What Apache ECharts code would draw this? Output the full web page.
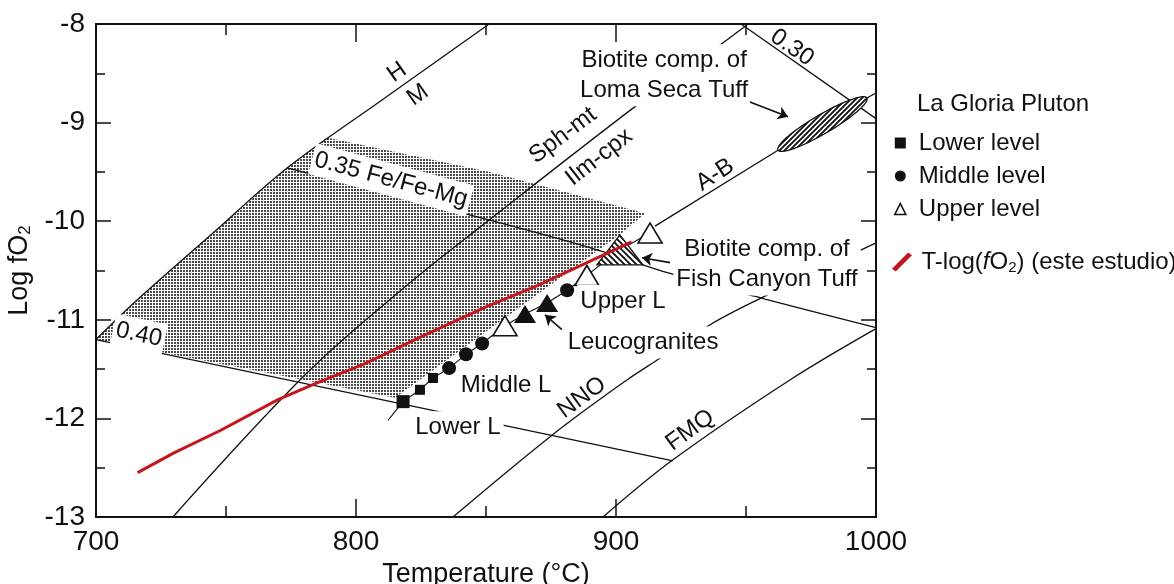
<!DOCTYPE html>
<html>
<head>
<meta charset="utf-8">
<script src="https://cdn.jsdelivr.net/npm/echarts@6/dist/echarts.min.js"></script>
<style>
  html, body { margin: 0; padding: 0; background: #fff; }
  #chart { width: 1174px; height: 584px; }
</style>
</head>
<body>
<div id="chart"></div>
<script>
// ---- axis ticks ----
const tempTicks = [700, 800, 900, 1000];
const logTicks = [-13, -12, -11, -10, -9, -8];

// ---- reference curves (T in °C, log fO2) ----
const hmT = [700, 715.8, 745, 773.5, 810, 851.2];            // hematite / magnetite
const hmLog = [-11.2, -10.8, -10.12, -9.46, -8.77, -8.0];
const sphT = [729.6, 782.3, 821.9, 847.7, 909.2, 941.2, 950.8]; // Sph-mt / Ilm-cpx
const sphLog = [-13.0, -11.51, -10.6, -10.06, -8.8, -8.19, -8.0];
const abT = [915.0, 962.3, 996.5, 1000];                     // A-B
const abLog = [-10.05, -9.28, -8.75, -8.7];
const nnoT = [837.3, 875.4, 904.2, 916.9, 936.2, 954.2, 1000];
const nnoLog = [-13.0, -12.17, -11.61, -11.39, -11.05, -10.8, -10.22];
const fmqT = [895.0, 921.9, 966.9, 1000];
const fmqLog = [-13.0, -12.42, -11.61, -11.09];
// biotite Fe/(Fe+Mg) isopleths
const iso30T = [948.1, 1000];
const iso30Log = [-8.0, -8.96];
const iso35T = [773.5, 851.5, 892.7, 920.8, 957.3, 1000];
const iso35Log = [-9.46, -9.99, -10.29, -10.53, -10.79, -11.08];
const iso40T = [700, 921.9];
const iso40Log = [-11.2, -12.43];

// stippled field
const fieldT = [700, 715.8, 745, 773.5, 788.8, 851.5, 911.2, 902.3, 815.0];
const fieldLog = [-11.2, -10.8, -10.12, -9.46, -9.15, -9.5, -9.92, -10.12, -11.79];

// ---- La Gloria pluton samples ----
const lowerT = [818.1, 824.6, 829.6];
const lowerLog = [-11.83, -11.71, -11.59];
const middleT = [835.8, 842.3, 848.5, 881.2];
const middleLog = [-11.49, -11.35, -11.24, -10.7];
const upperT = [857.3, 888.8, 913.1];
const upperLog = [-11.06, -10.55, -10.12];
const leucoT = [865.0, 873.5];
const leucoLog = [-10.94, -10.83];
// trend through the samples
const trendT = [812.3, 818.1, 824.6, 829.6, 835.8, 842.3, 848.5, 857.3, 865.0, 873.5, 881.2, 888.8, 901.5, 913.1];
const trendLog = [-12.02, -11.83, -11.71, -11.59, -11.49, -11.35, -11.24, -11.06, -10.94, -10.83, -10.7, -10.55, -10.29, -10.12];

// ---- biotite compositions of tuffs ----
const fishCanyonT = [901.5];
const fishCanyonLog = [-10.29];
const lomaSecaT = [962.3, 996.5];     // ends of the long axis
const lomaSecaLog = [-9.28, -8.75];

// ---- T-log(fO2) of this study ----
const studyT = [716, 730, 748, 770, 785, 803, 826, 850, 870, 906];
const studyLog = [-12.55, -12.35, -12.12, -11.81, -11.64, -11.45, -11.16, -10.87, -10.65, -10.21];

// ---- annotations ----
const notes = [
  { text: 'H', at: [815.8, -8.49], rotate: 35 },
  { text: 'M', at: [823.8, -8.72], rotate: 35 },
  { text: 'Sph-mt', at: [879.6, -9.13], rotate: 37 },
  { text: 'Ilm-cpx', at: [893.5, -9.35], rotate: 38 },
  { text: 'A-B', at: [938.1, -9.53], rotate: 33 },
  { text: '0.30', at: [967.7, -8.24], rotate: -35 },
  { text: '0.35 Fe/Fe-Mg', at: [813.5, -9.58], rotate: -15, box: true },
  { text: '0.40', at: [716.5, -11.15], rotate: -12, box: true },
  { text: 'Biotite comp. of\nLoma Seca Tuff', at: [918.5, -8.52], box: true },
  { text: 'Biotite comp. of\nFish Canyon Tuff', at: [958.1, -10.44], box: true },
  { text: 'Upper L', at: [902.7, -10.81], box: true },
  { text: 'Leucogranites', at: [910.4, -11.23], box: true },
  { text: 'Middle L', at: [857.7, -11.67], box: true },
  { text: 'Lower L', at: [839.2, -12.09], box: true },
  { text: 'NNO', at: [886.9, -11.79], rotate: 36 },
  { text: 'FMQ', at: [928.5, -12.12], rotate: 36 }
];
const arrows = [
  { from: [951.5, -8.79], to: [966.2, -8.94] },
  { from: [920.8, -10.42], to: [910.0, -10.37] },
  { from: [879.2, -11.10], to: [872.7, -10.95] }
];

const FONT = "'Liberation Sans', Arial, Helvetica, sans-serif";
const INK = '#111';
const RED = '#c4161c';

function pairs(xs, ys) { return xs.map((x, i) => [x, ys[i]]); }

// fill patterns
function stipplePattern() {
  const c = document.createElement('canvas');
  c.width = 3; c.height = 3;
  const g = c.getContext('2d');
  g.fillStyle = '#fff'; g.fillRect(0, 0, 3, 3);
  g.fillStyle = '#4a4a4a';
  g.fillRect(0, 0, 2, 2);
  return { image: c, repeat: 'repeat' };
}
function hatchPattern(dir, s) {
  const c = document.createElement('canvas');
  c.width = s; c.height = s;
  const g = c.getContext('2d');
  g.fillStyle = '#fff'; g.fillRect(0, 0, s, s);
  g.strokeStyle = '#111'; g.lineWidth = 1.9;
  g.beginPath();
  if (dir > 0) {
    g.moveTo(-1, s + 1); g.lineTo(s + 1, -1);
    g.moveTo(-1, 1); g.lineTo(1, -1);
    g.moveTo(s - 1, s + 1); g.lineTo(s + 1, s - 1);
  } else {
    g.moveTo(-1, -1); g.lineTo(s + 1, s + 1);
    g.moveTo(s - 1, -1); g.lineTo(s + 1, 1);
    g.moveTo(-1, s - 1); g.lineTo(1, s + 1);
  }
  g.stroke();
  return { image: c, repeat: 'repeat' };
}
const stipple = stipplePattern();
const hatchBack = hatchPattern(-1, 6);
const hatchFwd = hatchPattern(1, 5);

function curve(name, xs, ys, smooth, width) {
  return {
    name: name, type: 'line', data: pairs(xs, ys), smooth: smooth ? 0.35 : false,
    showSymbol: false, symbol: 'none', silent: true, z: 2,
    lineStyle: { color: INK, width: width || 1.3 }
  };
}

const chart = echarts.init(document.getElementById('chart'), null, { renderer: 'canvas' });

const axisCommon = {
  type: 'value',
  axisLine: { show: true, onZero: false, lineStyle: { color: INK, width: 2 } },
  splitLine: { show: false }
};

chart.setOption({
  animation: false,
  backgroundColor: '#fff',
  textStyle: { fontFamily: FONT, color: INK },
  title: {
    text: 'La Gloria Pluton', left: 912, top: 87,
    textStyle: { fontFamily: FONT, fontSize: 24, fontWeight: 'normal', color: INK }
  },
  legend: [
    {
      orient: 'vertical', left: 889, top: 126, itemGap: 9, itemWidth: 11, itemHeight: 11,
      selectedMode: false,
      textStyle: { fontFamily: FONT, fontSize: 24, color: INK, padding: [0, 0, 0, 8] },
      data: [
        { name: 'Lower level', icon: 'rect', itemStyle: { color: INK } },
        { name: 'Middle level', icon: 'circle', itemStyle: { color: INK } },
        { name: 'Upper level', icon: 'triangle', itemStyle: { color: '#fff', borderColor: INK, borderWidth: 1.6 } }
      ]
    },
    {
      orient: 'vertical', left: 887, top: 245, itemWidth: 21, itemHeight: 19,
      selectedMode: false,
      textStyle: {
        fontFamily: FONT, fontSize: 24, color: INK, padding: [0, 0, 0, 4],
        rich: {
          i: { fontFamily: FONT, fontSize: 24, fontStyle: 'italic', color: INK },
          s: { fontFamily: FONT, fontSize: 15, color: INK, padding: [11, 0, 0, 0] }
        }
      },
      formatter: () => 'T-log({i|f}O{s|2}) (este estudio)',
      data: [
        { name: 'T-log(fO2) (este estudio)', icon: 'path://M0,17 L17,0 L21,3 L4,20 Z', itemStyle: { color: RED } }
      ]
    }
  ],
  grid: { left: 96, right: 298, top: 24, bottom: 67, containLabel: false, outerBoundsMode: 'none' },
  xAxis: [
    Object.assign({}, axisCommon, {
      position: 'bottom', min: tempTicks[0], max: tempTicks[tempTicks.length - 1], interval: 100,
      axisTick: { show: true, inside: true, length: 18, lineStyle: { color: INK, width: 1.5 } },
      minorTick: { show: true, splitNumber: 2, length: 11, lineStyle: { color: INK, width: 1.5 } },
      axisLabel: { show: true, fontSize: 28, color: INK, fontFamily: FONT, margin: 11, formatter: v => String(v) },
      name: 'Temperature (°C)', nameLocation: 'middle', nameGap: 39,
      nameTextStyle: { fontSize: 27, color: INK, fontFamily: FONT }
    }),
    Object.assign({}, axisCommon, {
      position: 'top', min: tempTicks[0], max: tempTicks[tempTicks.length - 1], interval: 100,
      axisTick: { show: true, inside: true, length: 18, lineStyle: { color: INK, width: 1.5 } },
      minorTick: { show: true, splitNumber: 2, length: 11, lineStyle: { color: INK, width: 1.5 } },
      axisLabel: { show: false }
    })
  ],
  yAxis: [
    Object.assign({}, axisCommon, {
      position: 'left', min: logTicks[0], max: logTicks[logTicks.length - 1], interval: 1,
      axisTick: { show: true, inside: true, length: 15, lineStyle: { color: INK, width: 1.5 } },
      minorTick: { show: true, splitNumber: 2, length: 9, lineStyle: { color: INK, width: 1.5 } },
      axisLabel: { show: true, fontSize: 28, color: INK, fontFamily: FONT, margin: 11, formatter: v => String(v) },
      name: 'Log fO{sub|2}', nameLocation: 'middle', nameGap: 54, nameRotate: 90,
      nameTextStyle: {
        fontSize: 27, color: INK, fontFamily: FONT,
        rich: { sub: { fontSize: 17, fontFamily: FONT, color: INK, padding: [12, 0, 0, 0] } }
      }
    }),
    Object.assign({}, axisCommon, {
      position: 'right', min: logTicks[0], max: logTicks[logTicks.length - 1], interval: 1,
      axisTick: { show: true, inside: true, length: 15, lineStyle: { color: INK, width: 1.5 } },
      minorTick: { show: true, splitNumber: 2, length: 9, lineStyle: { color: INK, width: 1.5 } },
      axisLabel: { show: false }
    })
  ],
  series: [
    {
      name: 'field', type: 'custom', silent: true, z: 1,
      data: pairs(fieldT, fieldLog),
      renderItem: function (params, api) {
        if (params.dataIndex !== 0) return null;
        const pts = fieldT.map((t, i) => api.coord([t, fieldLog[i]]));
        return { type: 'polygon', shape: { points: pts }, style: { fill: stipple } };
      }
    },
    curve('H-M', hmT, hmLog, true),
    curve('Sph-mt', sphT, sphLog, true),
    curve('A-B', abT, abLog, false),
    curve('NNO', nnoT, nnoLog, true),
    curve('FMQ', fmqT, fmqLog, true),
    curve('0.30', iso30T, iso30Log, false),
    curve('0.35', iso35T, iso35Log, true),
    curve('0.40', iso40T, iso40Log, false),
    curve('trend', trendT, trendLog, false, 1.1),
    {
      name: 'Loma Seca Tuff', type: 'custom', silent: true, z: 3,
      data: pairs(lomaSecaT, lomaSecaLog),
      renderItem: function (params, api) {
        if (params.dataIndex !== 0) return null;
        const a = api.coord([lomaSecaT[0], lomaSecaLog[0]]);
        const b = api.coord([lomaSecaT[1], lomaSecaLog[1]]);
        const cx = (a[0] + b[0]) / 2, cy = (a[1] + b[1]) / 2;
        const rx = Math.hypot(b[0] - a[0], b[1] - a[1]) / 2;
        const ry = 9.5;
        const ang = Math.atan2(b[1] - a[1], b[0] - a[0]);
        const pts = [];
        for (let k = 0; k < 72; k++) {
          const t = k / 72 * Math.PI * 2;
          const ex = rx * Math.cos(t), ey = ry * Math.sin(t);
          pts.push([cx + ex * Math.cos(ang) - ey * Math.sin(ang), cy + ex * Math.sin(ang) + ey * Math.cos(ang)]);
        }
        return { type: 'polygon', shape: { points: pts }, style: { fill: hatchFwd, stroke: INK, lineWidth: 1.3 } };
      }
    },
    {
      name: 'Fish Canyon Tuff', type: 'custom', silent: true, z: 3,
      data: pairs(fishCanyonT, fishCanyonLog),
      renderItem: function (params, api) {
        const p = api.coord([api.value(0), api.value(1)]);
        const w = 23, h = 15;
        return {
          type: 'polygon',
          shape: { points: [[p[0], p[1] - h], [p[0] + w, p[1] + h], [p[0] - w, p[1] + h]] },
          style: { fill: hatchBack, stroke: INK, lineWidth: 1.3 }
        };
      }
    },
    {
      name: 'Lower level', type: 'scatter', silent: true, z: 4,
      data: pairs(lowerT, lowerLog), symbol: 'rect',
      symbolSize: (v, p) => (p.dataIndex === 0 ? 13 : 10),
      itemStyle: { color: INK, opacity: 1 }
    },
    {
      name: 'Middle level', type: 'scatter', silent: true, z: 4,
      data: pairs(middleT, middleLog), symbol: 'circle', symbolSize: 14,
      itemStyle: { color: INK, opacity: 1 }
    },
    {
      name: 'Leucogranites', type: 'scatter', silent: true, z: 4,
      data: pairs(leucoT, leucoLog), symbol: 'triangle', symbolSize: [22, 18],
      itemStyle: { color: INK, opacity: 1 }
    },
    {
      name: 'Upper level', type: 'scatter', silent: true, z: 4,
      data: pairs(upperT, upperLog), symbol: 'triangle', symbolSize: [24, 20],
      itemStyle: { color: '#fff', borderColor: INK, borderWidth: 1.6, opacity: 1 }
    },
    {
      name: 'notes', type: 'scatter', silent: true, z: 5,
      symbolSize: 1, itemStyle: { color: 'rgba(0,0,0,0)' },
      data: notes.map(n => ({
        value: n.at,
        label: {
          show: true, position: 'inside', formatter: n.text, rotate: n.rotate || 0,
          align: 'center', verticalAlign: 'middle', opacity: 1,
          textBorderWidth: 0, textShadowBlur: 0,
          fontFamily: FONT, fontSize: 24, color: INK, lineHeight: 30,
          backgroundColor: n.box ? '#fff' : 'transparent', padding: n.box ? [1, 3] : 0
        }
      }))
    },
    {
      name: 'arrows', type: 'lines', coordinateSystem: 'cartesian2d', silent: true, z: 6,
      symbol: ['none', 'arrow'], symbolSize: 10,
      lineStyle: { color: INK, width: 1.6, opacity: 1 },
      data: arrows.map(a => ({ coords: [a.from, a.to] }))
    },
    {
      name: 'T-log(fO2) (este estudio)', type: 'line', silent: true, z: 7,
      data: pairs(studyT, studyLog), showSymbol: false, symbol: 'none',
      lineStyle: { color: RED, width: 3 }, itemStyle: { color: RED }
    }
  ]
});
</script>
</body>
</html>
